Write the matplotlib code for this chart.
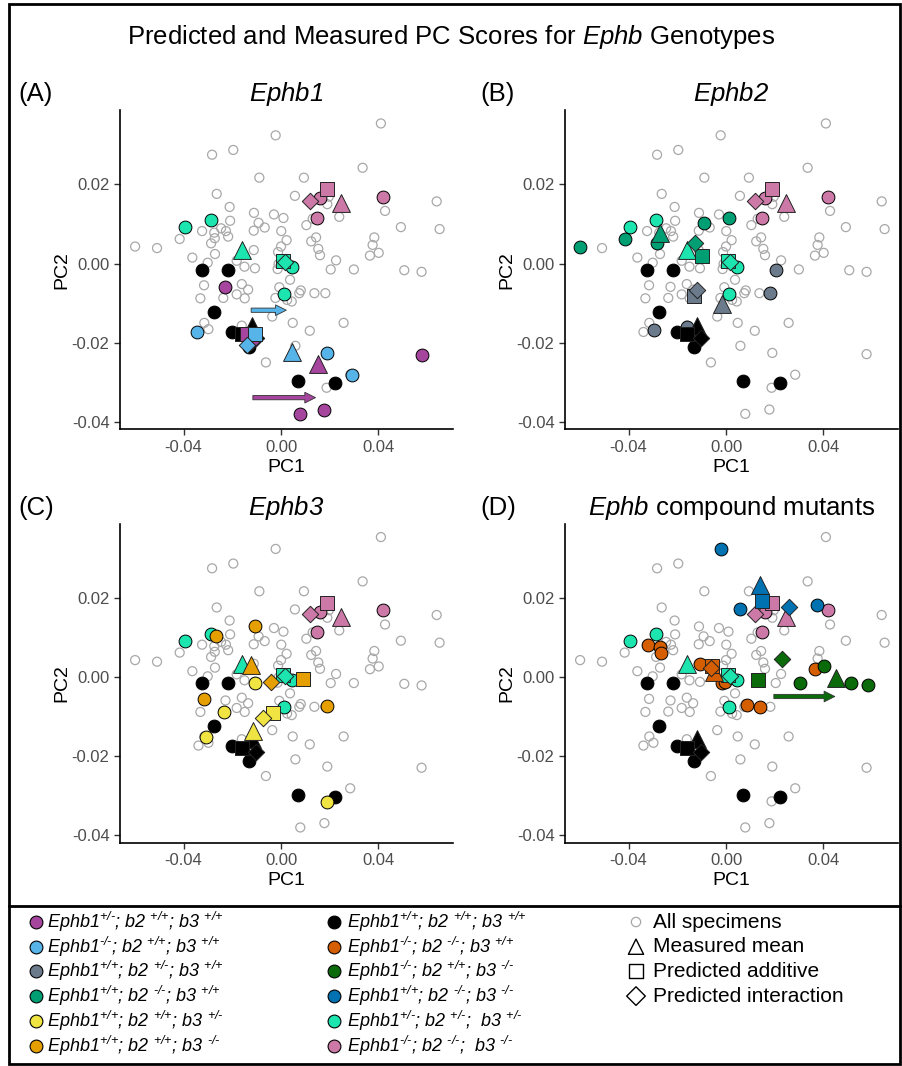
import numpy as np
import matplotlib
matplotlib.use("Agg")
import matplotlib.pyplot as plt
from matplotlib.patches import Rectangle, FancyArrowPatch

plt.rcParams['font.family'] = ['Liberation Sans', 'DejaVu Sans']
plt.rcParams['mathtext.fontset'] = 'custom'
plt.rcParams['mathtext.rm'] = 'Liberation Sans:italic'
plt.rcParams['mathtext.it'] = 'Liberation Sans:italic'
plt.rcParams['mathtext.bf'] = 'Liberation Sans:bold'

# ---- data (PC1, PC2) ----
gray_pts = [(0.0410, 0.0354), (-0.0022, 0.0324), (-0.0196, 0.0287), (-0.0283, 0.0275), (0.0335, 0.0242),
            (-0.0089, 0.0217), (0.0094, 0.0217), (-0.0264, 0.0176), (0.0057, 0.0171), (0.0196, 0.0169),
            (0.0639, 0.0157), (-0.0211, 0.0143), (0.0190, 0.0150), (0.0427, 0.0133), (0.0239, 0.0118),
            (-0.0111, 0.0128), (-0.0029, 0.0124), (0.0010, 0.0115), (-0.0209, 0.0108), (-0.0092, 0.0103),
            (-0.0067, 0.0091), (0.0130, 0.0113), (0.0104, 0.0097), (-0.0324, 0.0082), (-0.0274, 0.0078),
            (-0.0246, 0.0089), (-0.0226, 0.0082), (-0.0272, 0.0064), (-0.0217, 0.0068), (-0.0112, 0.0083),
            (0.0001, 0.0082), (0.0492, 0.0092), (0.0651, 0.0087), (-0.0416, 0.0062), (-0.0287, 0.0051),
            (0.0023, 0.0059), (0.0144, 0.0066), (0.0124, 0.0056), (0.0383, 0.0066), (-0.0599, 0.0043),
            (-0.0509, 0.0039), (0.0000, 0.0043), (0.0153, 0.0037), (0.0376, 0.0047), (-0.0271, 0.0024),
            (-0.0012, 0.0029), (0.0160, 0.0021), (0.0365, 0.0020), (0.0401, 0.0027), (-0.0364, 0.0015),
            (-0.0182, 0.0007), (-0.0112, 0.0034), (-0.0301, 0.0002), (-0.0150, -0.0008), (-0.0107, -0.0012),
            (-0.0014, -0.0014), (-0.0010, -0.0001), (0.0226, 0.0008), (0.0204, -0.0015), (0.0299, -0.0015),
            (0.0506, -0.0017), (0.0577, -0.0021), (-0.0316, -0.0055), (-0.0161, -0.0052), (-0.0135, -0.0066),
            (0.0037, -0.0041), (-0.0007, -0.0060), (-0.0331, -0.0088), (-0.0182, -0.0078), (-0.0149, -0.0088),
            (-0.0237, -0.0087), (-0.0023, -0.0087), (0.0025, -0.0092), (0.0044, -0.0096), (0.0081, -0.0068),
            (0.0075, -0.0075), (0.0137, -0.0075), (0.0182, -0.0075), (-0.0036, -0.0134), (0.0048, -0.0150),
            (0.0118, -0.0170), (0.0257, -0.0150), (-0.0315, -0.0150), (-0.0298, -0.0166), (-0.0161, -0.0157),
            (0.0059, -0.0208), (-0.0062, -0.0250), (0.0187, -0.0314), (0.0079, -0.0380), (0.0178, -0.0369),
            (-0.0339, -0.0173), (0.0577, -0.0229), (0.0190, -0.0226), (0.0284, -0.0281), (-0.0228, -0.0059)]

# genotype groups: individual specimens, measured mean, predicted additive, predicted interaction
wt_pts = [(-0.0323, -0.0016), (-0.0216, -0.0016), (-0.0275, -0.0123), (-0.0200, -0.0174),
          (-0.0130, -0.0212), (0.0068, -0.0297), (0.0222, -0.0303)]
wt_mean, wt_add, wt_int = (-0.0118, -0.0157), (-0.0161, -0.0178), (-0.0104, -0.0189)

b1het_pts = [(-0.0228, -0.0059), (0.0580, -0.0230), (0.0079, -0.0380), (0.0178, -0.0369)]
b1het_mean, b1het_add, b1het_int = (0.0153, -0.0255), (-0.0138, -0.0178), (-0.0124, -0.0199)

b1ko_pts = [(-0.0343, -0.0173), (0.0189, -0.0226), (0.0290, -0.0282)]
b1ko_mean, b1ko_add, b1ko_int = (0.0044, -0.0224), (-0.0107, -0.0178), (-0.0141, -0.0207)

b2het_pts = [(0.0206, -0.0016), (0.0181, -0.0075), (-0.0295, -0.0169), (-0.0159, -0.0160)]
b2het_mean, b2het_add, b2het_int = (-0.0018, -0.0102), (-0.0131, -0.0082), (-0.0118, -0.0068)

b2ko_pts = [(-0.0599, 0.0043), (-0.0413, 0.0061), (-0.0284, 0.0051), (-0.0090, 0.0102), (0.0012, 0.0114)]
b2ko_mean, b2ko_add, b2ko_int = (-0.0271, 0.0076), (-0.0100, 0.0020), (-0.0127, 0.0053)

b3het_pts = [(-0.0105, -0.0014), (-0.0235, -0.0087), (-0.0310, -0.0151), (0.0190, -0.0316)]
b3het_mean, b3het_add, b3het_int = (-0.0115, -0.0137), (-0.0033, -0.0091), (-0.0074, -0.0103)

b3ko_pts = [(-0.0265, 0.0104), (-0.0108, 0.0129), (-0.0315, -0.0056), (0.0187, -0.0074)]
b3ko_mean, b3ko_add, b3ko_int = (-0.0122, 0.0031), (0.0089, -0.0005), (-0.0040, -0.0013)

b1b2_pts = [(-0.0321, 0.0082), (-0.0269, 0.0076), (-0.0267, 0.0062), (-0.0105, 0.0034), (-0.0016, -0.0015),
            (-0.0004, -0.0013), (0.0086, -0.0070), (0.0139, -0.0076), (0.0365, 0.0020)]
b1b2_mean, b1b2_add, b1b2_int = (-0.0048, 0.0014), (-0.0057, 0.0027), (-0.0062, 0.0023)

b1b3_pts = [(0.0305, -0.0015), (0.0402, 0.0027), (0.0513, -0.0016), (0.0584, -0.0019)]
b1b3_mean, b1b3_add, b1b3_int = (0.0451, -0.0003), (0.0133, -0.0007), (0.0228, 0.0046)

b2b3_pts = [(-0.0019, 0.0324), (0.0059, 0.0172), (0.0373, 0.0182)]
b2b3_mean, b2b3_add, b2b3_int = (0.0139, 0.0233), (0.0146, 0.0192), (0.0257, 0.0176)

het3_pts = [(-0.0394, 0.0092), (-0.0289, 0.0110), (0.0044, -0.0008), (0.0014, -0.0076)]
het3_mean, het3_add, het3_int = (-0.0159, 0.0033), (0.0010, 0.0006), (0.0016, 0.0003)

ko3_pts = [(0.0160, 0.0165), (0.0149, 0.0114), (0.0420, 0.0169)]
ko3_mean, ko3_add, ko3_int = (0.0245, 0.0152), (0.0190, 0.0188), (0.0119, 0.0159)

# shift arrows (start, end)
b1ko_arrow = [(-0.0134, -0.0118), (0.0033, -0.0118)]
b1het_arrow = [(-0.0127, -0.0339), (0.0153, -0.0339)]
b1b3_arrow = [(0.0185, -0.0049), (0.0458, -0.0049)]

legend_labels = [
    r"$\text{Ephb1}^{\text{+/-}}\text{; b2 }^{\text{+/+}}\text{; b3 }^{\text{+/+}}$",
    r"$\text{Ephb1}^{\text{-/-}}\text{; b2 }^{\text{+/+}}\text{; b3 }^{\text{+/+}}$",
    r"$\text{Ephb1}^{\text{+/+}}\text{; b2 }^{\text{+/-}}\text{; b3 }^{\text{+/+}}$",
    r"$\text{Ephb1}^{\text{+/+}}\text{; b2 }^{\text{-/-}}\text{; b3 }^{\text{+/+}}$",
    r"$\text{Ephb1}^{\text{+/+}}\text{; b2 }^{\text{+/+}}\text{; b3 }^{\text{+/-}}$",
    r"$\text{Ephb1}^{\text{+/+}}\text{; b2 }^{\text{+/+}}\text{; b3 }^{\text{-/-}}$",
    r"$\text{Ephb1}^{\text{+/+}}\text{; b2 }^{\text{+/+}}\text{; b3 }^{\text{+/+}}$",
    r"$\text{Ephb1}^{\text{-/-}}\text{; b2 }^{\text{-/-}}\text{; b3 }^{\text{+/+}}$",
    r"$\text{Ephb1}^{\text{-/-}}\text{; b2 }^{\text{+/+}}\text{; b3 }^{\text{-/-}}$",
    r"$\text{Ephb1}^{\text{+/+}}\text{; b2 }^{\text{-/-}}\text{; b3 }^{\text{-/-}}$",
    r"$\text{Ephb1}^{\text{+/-}}\text{; b2 }^{\text{+/-}}\text{;  b3 }^{\text{+/-}}$",
    r"$\text{Ephb1}^{\text{-/-}}\text{; b2 }^{\text{-/-}}\text{;  b3 }^{\text{-/-}}$",
]
legend_keys = ['b1het', 'b1ko', 'b2het', 'b2ko', 'b3het', 'b3ko',
               'wt', 'b1b2', 'b1b3', 'b2b3', 'het3', 'ko3']
shape_labels = ["All specimens", "Measured mean", "Predicted additive", "Predicted interaction"]

colors = {'wt': '#000000', 'b1het': '#A6459E', 'b1ko': '#56B4E9', 'b2het': '#6C7B8B',
          'b2ko': '#009E73', 'b3het': '#F0E442', 'b3ko': '#E69F00', 'b1b2': '#D55E00',
          'b1b3': '#0B6B0B', 'b2b3': '#0072B2', 'het3': '#1DE5B0', 'ko3': '#CC79A7'}

groups = {k: (globals()[k + '_pts'], globals()[k + '_mean'], globals()[k + '_add'], globals()[k + '_int'])
          for k in legend_keys}

panels = [
    ('(A)', r'$Ephb1$', ['wt', 'het3', 'ko3', 'b1het', 'b1ko'], [('b1ko', b1ko_arrow), ('b1het', b1het_arrow)]),
    ('(B)', r'$Ephb2$', ['wt', 'het3', 'ko3', 'b2het', 'b2ko'], []),
    ('(C)', r'$Ephb3$', ['wt', 'het3', 'ko3', 'b3het', 'b3ko'], []),
    ('(D)', r'$Ephb$ compound mutants', ['wt', 'het3', 'ko3', 'b1b2', 'b1b3', 'b2b3'], [('b1b3', b1b3_arrow)]),
]

# ---- layout (pixels of a 903 x 1066 canvas) ----
W, H = 903, 1066
fig = plt.figure(figsize=(W / 100, H / 100), dpi=100)
boxes = [(120, 110, 453, 429.3), (565, 110, 898, 429.3),
         (120, 523.6, 453, 842.9), (565, 523.6, 898, 842.9)]
tag_x = [18, 480, 18, 480]


def fig_xy(x, y):
    return x / W, 1 - y / H


for (tag, title, keys, arrows), (l, t, r, b), tx in zip(panels, boxes, tag_x):
    ax = fig.add_axes([l / W, 1 - b / H, (r - l) / W, (b - t) / H])
    g = np.array(gray_pts)
    ax.scatter(g[:, 0], g[:, 1], s=42, facecolor='none', edgecolor='#A8A8A8', linewidth=0.9, zorder=2)
    for k in keys:
        p = np.array(groups[k][0])
        ax.scatter(p[:, 0], p[:, 1], s=85, color=colors[k], edgecolor='black', linewidth=0.7, zorder=3)
    for k in keys:
        pts, mean, add, inter = groups[k]
        ax.scatter(*mean, marker='^', s=165, color=colors[k], edgecolor='#222222', linewidth=0.7, zorder=4)
        ax.scatter(*add, marker='s', s=95, color=colors[k], edgecolor='#222222', linewidth=0.7, zorder=4)
        ax.scatter(*inter, marker='D', s=70, color=colors[k], edgecolor='#222222', linewidth=0.7, zorder=4)
    for k, (p0, p1) in arrows:
        ax.add_patch(FancyArrowPatch(p0, p1, arrowstyle='simple,head_width=0.7,head_length=0.7,tail_width=0.28',
                                     mutation_scale=11, facecolor=colors[k], edgecolor='#333333',
                                     linewidth=0.6, zorder=5))
    ax.set_xlim(-0.0661, 0.0706)
    ax.set_ylim(-0.0419, 0.0388)
    ax.set_xticks([-0.04, 0, 0.04])
    ax.set_xticklabels(['-0.04', '0.00', '0.04'])
    ax.set_yticks([-0.04, -0.02, 0, 0.02])
    ax.set_yticklabels(['-0.04', '-0.02', '0.00', '0.02'])
    ax.tick_params(direction='out', length=4, width=1, color='#333333', labelcolor='#4D4D4D', labelsize=12)
    for s in ['top', 'right']:
        ax.spines[s].set_visible(False)
    for s in ['left', 'bottom']:
        ax.spines[s].set_linewidth(1.2)
    ax.set_xlabel('PC1', fontsize=14, labelpad=3)
    ax.set_ylabel('PC2', fontsize=14, labelpad=1)
    ax.set_facecolor('none')
    fig.text(*fig_xy((l + r) / 2, t - 9), title, fontsize=18.5, ha='center', va='baseline')
    fig.text(*fig_xy(tx, t - 9), tag, fontsize=18.5, ha='left', va='baseline')

fig.text(*fig_xy(W / 2, 44), r"Predicted and Measured PC Scores for $Ephb$ Genotypes",
         fontsize=18.5, ha='center', va='baseline')

# ---- frame, separator and legend ----
over = fig.add_axes([0, 0, 1, 1], zorder=-1)
over.set_xlim(0, W)
over.set_ylim(H, 0)
over.axis('off')
over.add_patch(Rectangle((9, 4), 891, 1060, fill=False, edgecolor='black', linewidth=2))
over.plot([9, 900], [906, 906], color='black', linewidth=2)

row0, drow = 922, 24.7
for i, (k, lab) in enumerate(zip(legend_keys, legend_labels)):
    col, row = divmod(i, 6)
    mx, tx = (36, 47) if col == 0 else (334, 347)
    y = row0 + row * drow
    over.scatter(mx, y, s=85, color=colors[k], edgecolor='black', linewidth=0.8, clip_on=False)
    over.text(tx, y, lab, fontsize=13, ha='left', va='center')

shape_styles = [('o', 45, '#A8A8A8', 0.9), ('^', 120, 'black', 1.0), ('s', 100, 'black', 1.0), ('D', 90, 'black', 1.0)]
for i, (lab, (m, s, ec, lw)) in enumerate(zip(shape_labels, shape_styles)):
    y = row0 + i * drow
    over.scatter(636, y, marker=m, s=s, facecolor='none', edgecolor=ec, linewidth=lw, clip_on=False)
    over.text(653, y, lab, fontsize=15, ha='left', va='center')

fig.savefig('out.png', dpi=100)
